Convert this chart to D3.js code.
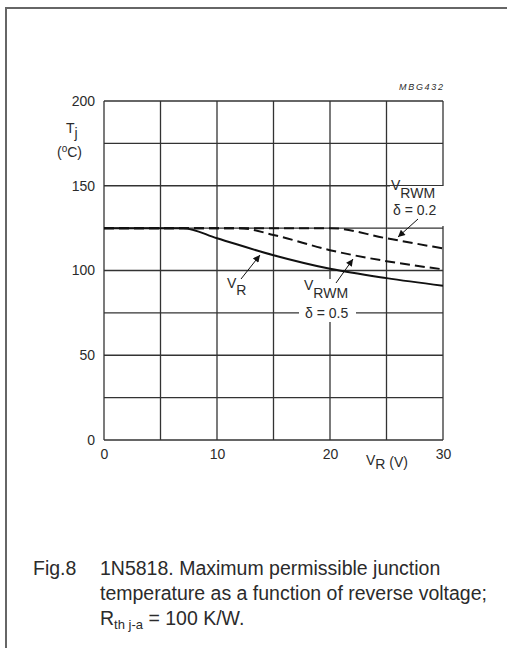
<!DOCTYPE html>
<html>
<head>
<meta charset="utf-8">
<script src="https://cdn.jsdelivr.net/npm/d3@7"></script>
<style>
  body { margin: 0; background: #fff; }
  text { font-family: "Liberation Sans", Arial, sans-serif; fill: #2b2b2b; }
</style>
</head>
<body>
<svg id="chart" width="507" height="648"></svg>
<script>
// reverse voltage (V) / junction temperature (degC)
const vrX = [0, 7, 10, 15, 20, 25, 30];
const vrT = [125, 125, 119, 109, 101, 95.5, 91];
const d02X = [0, 20, 25, 30];
const d02T = [125, 125, 119, 113];
const d05X = [0, 12, 15, 20, 25, 30];
const d05T = [125, 125, 121, 112, 105.5, 100.7];

const xTickLabels = [0, 10, 20, 30];
const yTickLabels = [0, 50, 100, 150, 200];

const svg = d3.select('#chart');

// scanned page frame
svg.append('path')
  .attr('d', 'M6,648 V8 H507')
  .attr('fill', 'none')
  .attr('stroke', '#666')
  .attr('stroke-width', 2);

const x = d3.scaleLinear().domain([0, 30]).range([104, 443]);
const y = d3.scaleLinear().domain([0, 200]).range([440, 101]);

// grid
let grid = svg.append('g');
grid.selectAll('line.v').data(d3.range(0, 31, 5)).enter()
  .append('line')
    .attr('x1', d => x(d)).attr('x2', d => x(d))
    .attr('y1', y(0)).attr('y2', y(200))
    .attr('stroke', '#333').attr('stroke-width', 1.3);
grid.selectAll('line.h').data(d3.range(0, 201, 25)).enter()
  .append('line')
    .attr('y1', d => y(d)).attr('y2', d => y(d))
    .attr('x1', x(0)).attr('x2', x(30))
    .attr('stroke', '#333').attr('stroke-width', 1.3);

// tick labels through axes
let xAxis = svg.append('g')
  .attr('transform', 'translate(0,' + y(0) + ')')
  .call(d3.axisBottom(x).tickValues(xTickLabels).tickSize(0).tickPadding(9));
let yAxis = svg.append('g')
  .attr('transform', 'translate(' + x(0) + ',0)')
  .call(d3.axisLeft(y).tickValues(yTickLabels).tickSize(0).tickPadding(9));
[xAxis, yAxis].forEach(a => {
  a.select('.domain').remove();
  a.selectAll('text').style('font-size', '14px').attr('fill', '#3a3a3a')
    .style('font-family', '"Liberation Sans", Arial, sans-serif');
});

// white boxes behind the labels that sit on the grid
svg.append('rect').attr('x', 390).attr('y', 186).attr('width', 56).attr('height', 40).attr('fill', '#fff');
svg.append('rect').attr('x', 299).attr('y', 279).attr('width', 57).attr('height', 43).attr('fill', '#fff');

// curves
const line = d3.line().x(d => x(d[0])).y(d => y(d[1])).curve(d3.curveMonotoneX);
const series = [
  {xs: vrX, ts: vrT, dash: null},
  {xs: d02X, ts: d02T, dash: '10,5'},
  {xs: d05X, ts: d05T, dash: '10,5'}
];
svg.selectAll('path.curve').data(series).enter()
  .append('path')
    .attr('class', 'curve')
    .attr('d', s => line(d3.zip(s.xs, s.ts)))
    .attr('fill', 'none')
    .attr('stroke', '#111')
    .attr('stroke-width', 2)
    .attr('stroke-dasharray', s => s.dash);

// arrows
svg.append('defs').append('marker')
  .attr('id', 'arr').attr('viewBox', '0 0 10 10')
  .attr('refX', 10).attr('refY', 5)
  .attr('markerWidth', 9).attr('markerHeight', 7)
  .attr('markerUnits', 'userSpaceOnUse')
  .attr('orient', 'auto')
  .append('path').attr('d', 'M0,0 L10,5 L0,10 Z').attr('fill', '#111');

const arrows = [[241, 279, 260, 255], [418, 219, 398, 237], [336, 283, 353, 259]];
svg.selectAll('line.arr').data(arrows).enter()
  .append('line')
    .attr('x1', d => d[0]).attr('y1', d => d[1])
    .attr('x2', d => d[2]).attr('y2', d => d[3])
    .attr('stroke', '#111').attr('stroke-width', 1)
    .attr('marker-end', 'url(#arr)');

// labels with subscripts
function sublabel(px, py, main, sub, size, subDy) {
  let t = svg.append('text').attr('x', px).attr('y', py).style('font-size', size + 'px');
  t.append('tspan').text(main);
  t.append('tspan').attr('dy', subDy).text(sub);
  return t;
}
sublabel(227, 288, 'V', 'R', 14, 7);
sublabel(391, 190, 'V', 'RWM', 14, 8);
svg.append('text').attr('x', 393).attr('y', 215).style('font-size', '14px').text('δ = 0.2');
sublabel(304, 290, 'V', 'RWM', 14, 8);
svg.append('text').attr('x', 305).attr('y', 318).style('font-size', '14px').text('δ = 0.5');

// axis titles
sublabel(366, 465, 'V', 'R', 14, 4).append('tspan').attr('dy', -2).text(' (V)');
sublabel(66, 133, 'T', 'j', 14, 5);
let tc = svg.append('text').attr('x', 57).attr('y', 157).style('font-size', '14px');
tc.append('tspan').text('(');
tc.append('tspan').attr('dy', -5).style('font-size', '10px').text('o');
tc.append('tspan').attr('dy', 5).text('C)');

svg.append('text').attr('x', 443).attr('y', 90).attr('text-anchor', 'end')
  .style('font-size', '9px').style('font-style', 'italic').attr('fill', '#555')
  .attr('textLength', 44).text('MBG432');

// caption
const cap = svg.append('g').style('font-size', '19.5px');
cap.append('text').attr('x', 33).attr('y', 575).text('Fig.8');
cap.append('text').attr('x', 100).attr('y', 575).text('1N5818. Maximum permissible junction');
cap.append('text').attr('x', 100).attr('y', 600).text('temperature as a function of reverse voltage;');
let c3 = cap.append('text').attr('x', 100).attr('y', 625);
c3.append('tspan').text('R');
c3.append('tspan').attr('dy', 4).style('font-size', '13px').text('th j-a');
c3.append('tspan').attr('dy', -4).text(' = 100 K/W.');
</script>
</body>
</html>
